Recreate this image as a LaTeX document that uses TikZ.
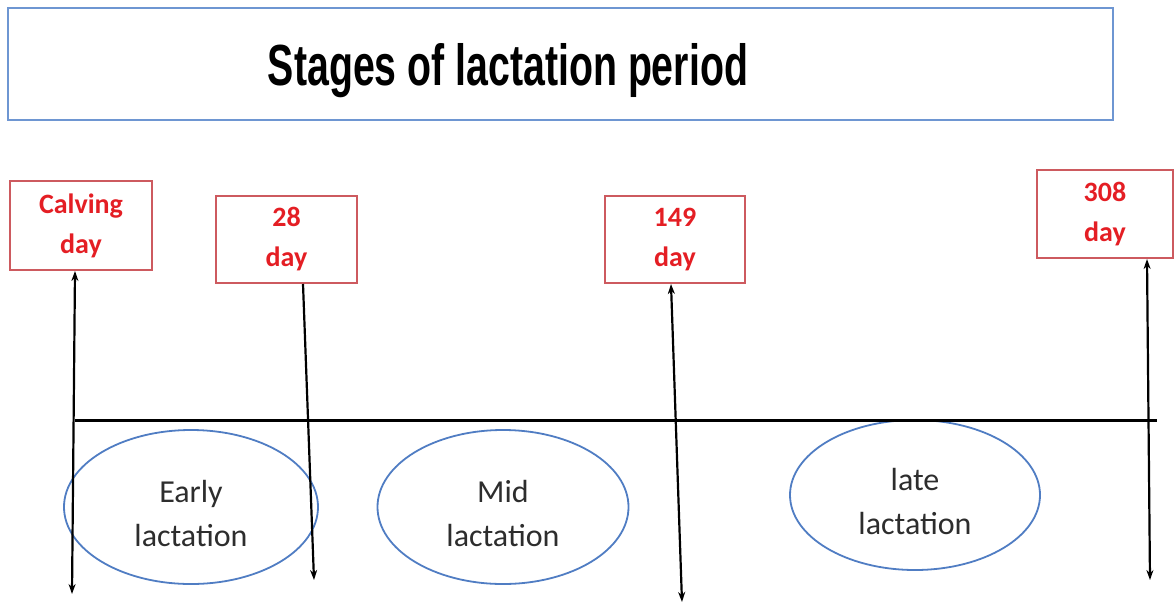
\documentclass[tikz,border=0pt]{standalone}
\usepackage{fontspec}
\usepackage{graphicx}
\setmainfont{Carlito}
\newfontfamily\titlefont{Liberation Sans}
\usetikzlibrary{arrows.meta,shapes.geometric}
\definecolor{boxred}{RGB}{205,90,95}
\definecolor{txtred}{RGB}{228,30,36}
\definecolor{tblue}{RGB}{110,150,210}
\definecolor{eblue}{RGB}{80,125,195}
\definecolor{etxt}{RGB}{45,45,45}
\tikzset{
  daybox/.style={draw=boxred, line width=2.5pt, rectangle, inner sep=0pt, align=center,
    text=txtred, font=\fontsize{28}{40}\selectfont\bfseries},
  stage/.style={draw=eblue, line width=1.8pt, ellipse, inner sep=0pt},
  stagetext/.style={align=center, text=etxt, inner sep=0pt, font=\fontsize{32}{44}\selectfont},
  tick/.style={line width=2.2pt, black},
  tip/.style={-{Stealth[length=10pt,width=7pt]}},
  tips/.style={{Stealth[length=10pt,width=7pt]}-{Stealth[length=10pt,width=7pt]}},
}
\begin{document}
\begin{tikzpicture}[x=1pt,y=-1pt]
\useasboundingbox (0,0) rectangle (1175,603);
% title
\node[draw=tblue, line width=2pt, minimum width=1105pt, minimum height=112pt, inner sep=0pt] (title) at (560.5,64) {};
\node[anchor=base, inner sep=0pt] (ttext) at (508,85) {\resizebox{480pt}{\height}{\titlefont\fontsize{58}{60}\selectfont\bfseries Stages of lactation period}};
% day boxes
\node[daybox, minimum width=142pt, minimum height=89pt] (calv) at (81,225.5) {Calving\\day};
\node[daybox, minimum width=141pt, minimum height=87pt] (d28) at (286.5,239.5) {28\\day};
\node[daybox, minimum width=140pt, minimum height=87pt] (d149) at (675,239.5) {149\\day};
\node[daybox, minimum width=136pt, minimum height=88pt] (d308) at (1105,214) {308\\day};
% stage ellipses
\node[stage, minimum width=254pt, minimum height=154pt,
  label={[stagetext, yshift=-6pt]center:Early\\lactation}] (early) at (191,507) {};
\node[stage, minimum width=251pt, minimum height=154pt,
  label={[stagetext, yshift=-6pt]center:Mid\\lactation}] (mid) at (503,507) {};
\node[stage, minimum width=250pt, minimum height=150pt,
  label={[stagetext, yshift=-6pt]center:late\\lactation}] (late) at (915,495) {};
% coordinates
\coordinate (t1) at (75,271);
\coordinate (b1) at (72,594);
\coordinate (t2) at (303,284);
\coordinate (b2) at (314,580);
\coordinate (t3) at (671,284);
\coordinate (b3) at (682,602);
\coordinate (t4) at (1147,259);
\coordinate (b4) at (1150,580);
\coordinate (h1) at (75,420);
\coordinate (h2) at (1157,420);
% timeline
\draw[line width=3pt] (h1) -- (h2);
% vertical arrows
\draw[tick, tips] (t1) -- (b1);
\draw[tick, tip] (t2) -- (b2);
\draw[tick, tips] (t3) -- (b3);
\draw[tick, tips] (t4) -- (b4);
\end{tikzpicture}
\end{document}
